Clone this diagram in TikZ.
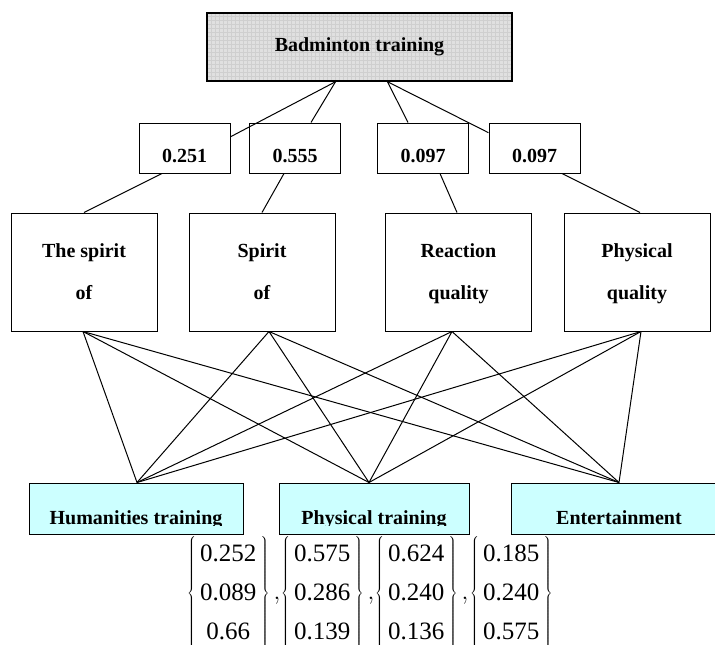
\documentclass[tikz,border=0pt]{standalone}
\usepackage{fontspec}
\setmainfont{Liberation Serif}
\usetikzlibrary{calc}
\definecolor{altfill}{RGB}{204,255,255}
\definecolor{topfill}{RGB}{224,224,224}
\begin{document}
\begin{tikzpicture}[x=1pt,y=-1pt,
  box/.style={draw=black, line width=1pt, inner sep=0pt, font=\fontsize{20}{24}\selectfont\bfseries},
  wbox/.style={box, minimum width=91pt, minimum height=50pt, text height=28.5pt, text depth=0pt},
  cbox/.style={box, minimum width=146pt, minimum height=118pt, align=center, font=\fontsize{20}{42}\selectfont\bfseries},
  abox/.style={draw=black, line width=1pt, fill=altfill, inner sep=0pt, minimum height=51pt},
  alabel/.style={inner sep=0pt, anchor=base, font=\fontsize{20}{24}\selectfont\bfseries},
  vec/.style={inner sep=0pt, anchor=west, font=\fontsize{25}{39}\selectfont},
  link/.style={line width=1pt}
]
\useasboundingbox (0,0) rectangle (715,645);

% goal
\node[box, line width=1.5pt, fill=topfill, minimum width=305pt, minimum height=68pt,
  path picture={\draw[gray!38, line width=0.3pt, step=4pt] (path picture bounding box.south west) grid (path picture bounding box.north east);}]
  (top) at (359.5,47) {Badminton training};

% weights
\node[wbox] (w1) at (184.5,148) {0.251};
\node[wbox] (w2) at (295,148) {0.555};
\node[wbox] (w3) at (423,148) {0.097};
\node[wbox] (w4) at (534.5,148) {0.097};

% criteria
\node[cbox] (A) at (84,272) {The spirit\\of};
\node[cbox] (B) at (262,272) {Spirit\\of};
\node[cbox] (C) at (458.5,272) {Reaction\\\smash{quality}};
\node[cbox] (D) at (637,272) {Physical\\\smash{quality}};

% alternatives
\node[abox, minimum width=214pt] (hum) at (136,508.5) {};
\node[abox, minimum width=190pt] (phys) at (374,508.5) {};
\node[abox, minimum width=216pt] (ent) at (619,508.5) {};
\begin{scope}
  \clip (0,0) rectangle (715,525);
  \node[alabel] (humt) at (136,524) {Humanities training};
  \node[alabel] (physt) at (374,524) {Physical training};
  \node[alabel] (entt) at (619,524) {Entertainment};
\end{scope}

% goal to weights
\draw[link] ($(top.south)+(-24,0)$) -- ($(w1.north east)!0.28!(w1.south east)$);
\draw[link] ($(top.south)+(-24,0)$) -- ($(w2.north)+(16,0)$);
\draw[link] ($(top.south)+(28,0)$) -- ($(w3.north)+(-15,0)$);
\draw[link] ($(top.south)+(28,0)$) -- ($(w4.north west)!0.2!(w4.south west)$);

% weights to criteria
\draw[link] ($(w1.south)+(-22.5,0)$) -- (A.north);
\draw[link] ($(w2.south)+(-11,0)$) -- (B.north);
\draw[link] ($(w3.south)+(17,0)$) -- ($(C.north)+(-1.5,0)$);
\draw[link] ($(w4.south)+(27.5,0)$) -- ($(D.north)+(3,0)$);

% criteria to alternatives
\coordinate (Ab) at ($(A.south)+(-1,0)$);
\coordinate (Bb) at ($(B.south)+(7,0)$);
\coordinate (Cb) at ($(C.south)+(-6.5,0)$);
\coordinate (Db) at ($(D.south)+(4,0)$);
\coordinate (Ht) at ($(hum.north)+(1,0)$);
\coordinate (Pt) at ($(phys.north)+(-5,0)$);
\coordinate (Et) at (ent.north);
\foreach \c in {Ab,Bb,Cb,Db}
  \foreach \a in {Ht,Pt,Et}
    \draw[link] (\c) -- (\a);

% weight vectors
\node[vec] (v1) at (187,593) {$\left\{\begin{array}{@{\,}c@{\,}}\mbox{0.252}\\\mbox{0.089}\\\mbox{0.66}\end{array}\right\}{,}$};
\node[vec] (v2) at (281,593) {$\left\{\begin{array}{@{\,}c@{\,}}\mbox{0.575}\\\mbox{0.286}\\\mbox{0.139}\end{array}\right\}{,}$};
\node[vec] (v3) at (375,593) {$\left\{\begin{array}{@{\,}c@{\,}}\mbox{0.624}\\\mbox{0.240}\\\mbox{0.136}\end{array}\right\}{,}$};
\node[vec] (v4) at (470,593) {$\left\{\begin{array}{@{\,}c@{\,}}\mbox{0.185}\\\mbox{0.240}\\\mbox{0.575}\end{array}\right\}$};
\end{tikzpicture}
\end{document}
